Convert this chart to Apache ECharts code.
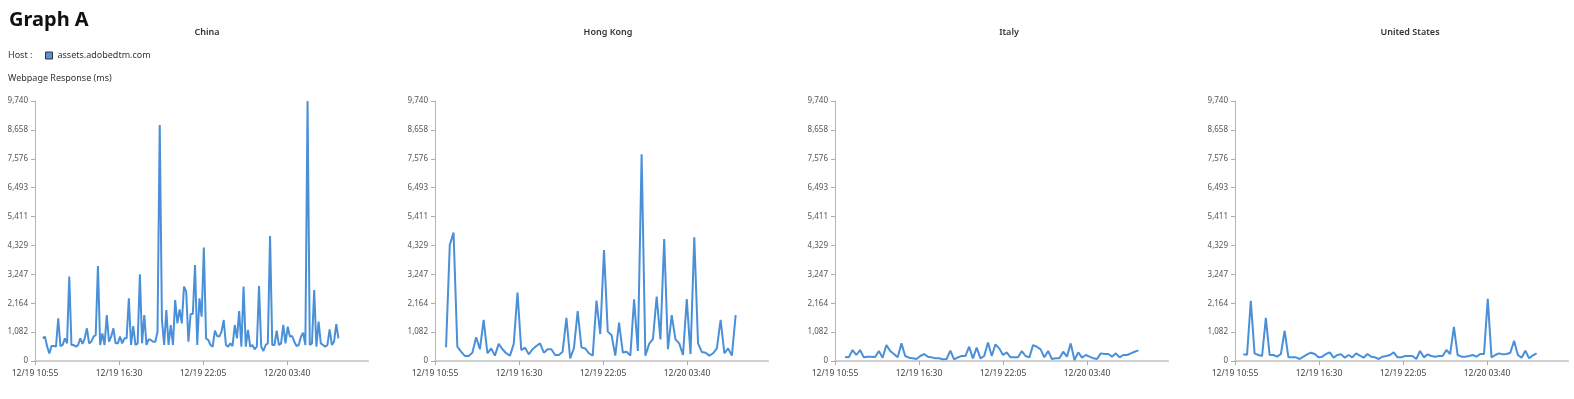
<!DOCTYPE html>
<html>
<head>
<meta charset="utf-8">
<title>Graph A</title>
<script src="https://cdn.jsdelivr.net/npm/echarts@6/dist/echarts.min.js"></script>
<style>
  html, body { margin: 0; padding: 0; background: #fff; }
  #main { width: 1574px; height: 399px; }
</style>
</head>
<body>
<div id="main"></div>
<script>
// time axis: minutes since 12/19 10:55
const baseTime = new Date(2000, 11, 19, 10, 55);
const timeTicks = [0, 335, 670, 1005];
const timeMax = 1328;
const yTicks = [0, 1082, 2164, 3247, 4329, 5411, 6493, 7576, 8658, 9740];
const yMax = 9740;

const countries = ['China', 'Hong Kong', 'Italy', 'United States'];
const hostName = 'assets.adobedtm.com';

// first sample (minutes after 10:55) and sampling step per country
const startMin = [31, 44, 40, 33];
const stepMin = [8.8, 15, 15, 15];

const chinaMs = [
  849, 912, 537, 287, 562, 562, 537, 1599, 562, 600, 849, 662, 3160, 600, 600, 537, 600, 849, 637, 849,
  1224, 662, 724, 912, 974, 3560, 600, 1037, 600, 1724, 724, 912, 1224, 662, 662, 912, 662, 849, 849, 2348,
  600, 1311, 600, 662, 3247, 662, 1724, 600, 812, 787, 724, 724, 1099, 8843, 1536, 600, 1911, 600, 1349, 600,
  2286, 1411, 1936, 1411, 2785, 2598, 724, 1761, 1761, 3597, 600, 2348, 1661, 4247,
  849, 787, 600, 537, 1137, 937, 912, 1099, 1536, 600, 537, 662, 562, 1349, 849, 1874, 537, 2785, 537, 1162,
  537, 600, 437, 537, 2810, 537, 375, 600, 662, 4684, 600, 600, 1137, 600, 662, 1349, 662, 1286, 912, 937,
  724, 562, 600, 912, 1062, 600, 9740, 600, 662, 2660, 537, 1474, 662, 600, 537, 600, 1187, 600, 724, 1386,
  849
];
const hongKongMs = [
  512, 4350, 4810, 540, 350, 190, 190, 310, 890, 440, 1540, 290, 470, 200, 640, 440, 290, 200, 640, 2560,
  410, 500, 250, 440, 560, 660, 310, 440, 440, 225, 225, 350, 1620,
  100, 470, 1870, 510, 470, 290, 200, 2260, 1010, 4160, 1100, 970, 200, 1440, 320, 350, 200, 2310, 375, 7740,
  200, 640, 820, 2410, 810, 4570, 440, 1720, 810, 660, 225, 2320, 260, 4630, 660, 340, 310, 200, 290, 470,
  1540, 290, 470, 200, 1720
];
const italyMs = [
  150, 137, 410, 224, 410, 137, 160, 160, 150, 373, 124, 597, 373, 260, 137, 660, 187, 124, 100, 75,
  187, 261, 162, 137, 100, 100, 62, 75, 385, 62, 137, 187, 187, 535, 100, 498, 100, 187, 697, 187,
  622, 473, 224, 323, 137, 137, 137, 373, 187, 137, 597, 535, 435, 137, 373, 75, 100, 100, 348, 162,
  660, 37, 323, 124, 224, 162, 100, 75, 286, 261, 261, 162, 286, 137, 224, 224, 286, 348, 398
];
const unitedStatesMs = [
  249, 236, 2252, 286, 224, 187, 1617, 224, 224, 162, 261, 1132, 137, 137, 137, 75, 162, 249, 311, 261,
  137, 162, 261, 323, 124, 224, 249, 124, 224, 137, 286, 199, 124, 261, 162, 137, 75, 162, 187, 224,
  323, 137, 137, 187, 187, 187, 75, 373, 137, 249, 187, 162, 187, 187, 410, 261, 1281, 224, 162, 162,
  187, 224, 162, 261, 261, 2326, 137, 224, 286, 249, 261, 311, 759, 224, 124, 385, 100, 211, 286
];
const responseMs = [chinaMs, hongKongMs, italyMs, unitedStatesMs];

const pad = n => (n < 10 ? '0' : '') + n;
function timeLabel(min) {
  const d = new Date(baseTime.getTime() + min * 60000);
  return pad(d.getMonth() + 1) + '/' + pad(d.getDate()) + ' ' + pad(d.getHours()) + ':' + pad(d.getMinutes());
}

const font = '"Noto Sans", "Open Sans", sans-serif';
const lineColor = '#4a90d9';

var myChart = echarts.init(document.getElementById('main'));

const grids = [], xAxes = [], yAxes = [], series = [], graphics = [];
countries.forEach((name, i) => {
  grids.push({ left: 35 + 400 * i, top: 101, width: 333, height: 260 });
  xAxes.push({
    type: 'value',
    gridIndex: i,
    min: 0,
    max: timeMax,
    axisLine: { show: true, lineStyle: { color: '#cfcfcf', width: 2 } },
    axisTick: { show: true, length: 4, customValues: timeTicks, lineStyle: { color: '#aaa' } },
    axisLabel: {
      customValues: timeTicks,
      formatter: v => timeLabel(v),
      fontSize: 8.5, color: '#444', fontFamily: font, margin: 8
    },
    splitLine: { show: false }
  });
  yAxes.push({
    type: 'value',
    gridIndex: i,
    min: 0,
    max: yMax,
    axisLine: { show: true, lineStyle: { color: '#b5b5b5', width: 1 } },
    axisTick: { show: true, length: 4, customValues: yTicks, lineStyle: { color: '#aaa' } },
    axisLabel: {
      customValues: yTicks,
      formatter: v => v.toLocaleString('en-US'),
      fontSize: 8, color: '#555', fontFamily: font, margin: 7
    },
    splitLine: { show: false }
  });
  series.push({
    name: hostName,
    type: 'line',
    xAxisIndex: i,
    yAxisIndex: i,
    showSymbol: false,
    lineStyle: { color: lineColor, width: 2 },
    itemStyle: { color: '#5b93d3' },
    data: responseMs[i].map((v, k) => [startMin[i] + k * stepMin[i], v])
  });
  graphics.push({
    type: 'text', x: 207 + 401 * i, y: 28,
    style: { text: name, font: '600 9px ' + font, fill: '#333', align: 'center', verticalAlign: 'top' }
  });
});

graphics.push(
  { type: 'text', left: 9, top: 10, style: { text: 'Graph A', font: 'bold 20px ' + font, fill: '#111' } },
  { type: 'text', left: 8, top: 51, style: { text: 'Host :', font: '9px ' + font, fill: '#333' } },
  { type: 'text', left: 8, top: 74, style: { text: 'Webpage Response (ms)', font: '9px ' + font, fill: '#333' } }
);

const option = {
  animation: false,
  legend: {
    data: [hostName],
    left: 45,
    top: 51,
    padding: 0,
    icon: 'rect',
    itemWidth: 7,
    itemHeight: 7,
    itemGap: 6,
    itemStyle: { color: '#5b93d3', borderColor: '#333', borderWidth: 1 },
    textStyle: { fontSize: 9, color: '#333', fontFamily: font }
  },
  grid: grids,
  xAxis: xAxes,
  yAxis: yAxes,
  series: series,
  graphic: graphics
};
myChart.setOption(option);
</script>
</body>
</html>
